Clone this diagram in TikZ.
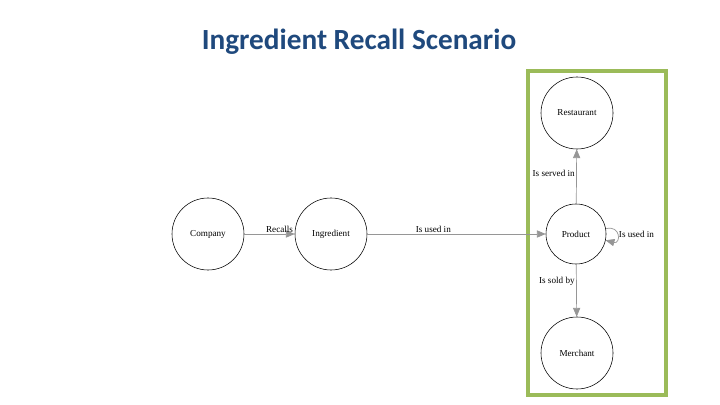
\documentclass[tikz,border=0pt]{standalone}
\usepackage{fontspec}
\setmainfont{Liberation Serif}
\newfontfamily\titlefont{Carlito}
\usepackage{tikz}
\usetikzlibrary{positioning, arrows.meta}

\definecolor{titleblue}{RGB}{31,73,125}
\definecolor{boxgreen}{RGB}{155,187,89}
\definecolor{relgray}{RGB}{150,150,150}

\begin{document}
\begin{tikzpicture}[
      x=0.025cm, y=-0.025cm,
      font=\fontsize{6.5}{7}\selectfont,
      ent/.style={draw, circle, thin, minimum size=1.8cm, inner sep=0pt, align=center},
      small/.style={ent, minimum size=1.5cm},
      rel/.style={draw=relgray, -{Triangle[length=2.2mm, width=1.8mm]}, line width=0.5pt},
      lab/.style={inner sep=1pt},
      group/.style={draw=boxgreen, line width=2.2pt},
    ]
    \useasboundingbox (0,0) rectangle (720,405);
    % ── title ──
    \node[font=\titlefont\fontsize{20.8}{24}\selectfont\bfseries, text=titleblue] (title) at (359,42) {Ingredient Recall Scenario};
    % ── product group ──
    \draw[group] (528,71) rectangle (666,395);
    % ── entities ──
    \node[ent] (company) at (208,234) {Company};
    \node[ent] (ingr) at (331,234) {Ingredient};
    \node[small] (prod) at (576,234) {Product};
    \node[ent] (rest) at (577,113) {Restaurant};
    \node[ent] (merch) at (577,353) {Merchant};
    % ── relations ──
    \draw[rel] (company) -- node[lab, pos=0.7, above] {Recalls} (ingr);
    \draw[rel] (ingr) -- node[lab, pos=0.37, above] {Is used in} (prod);
    \draw[rel] (prod) -- node[lab, pos=0.55, left] {Is served in} (rest);
    \draw[rel] (prod) -- node[lab, pos=0.33, left] {Is sold by} (merch);
    \draw[rel] (prod.10) to[out=15, in=-15, looseness=3.5] node[lab, right] {Is used in} (prod.-12);
\end{tikzpicture}
\end{document}
